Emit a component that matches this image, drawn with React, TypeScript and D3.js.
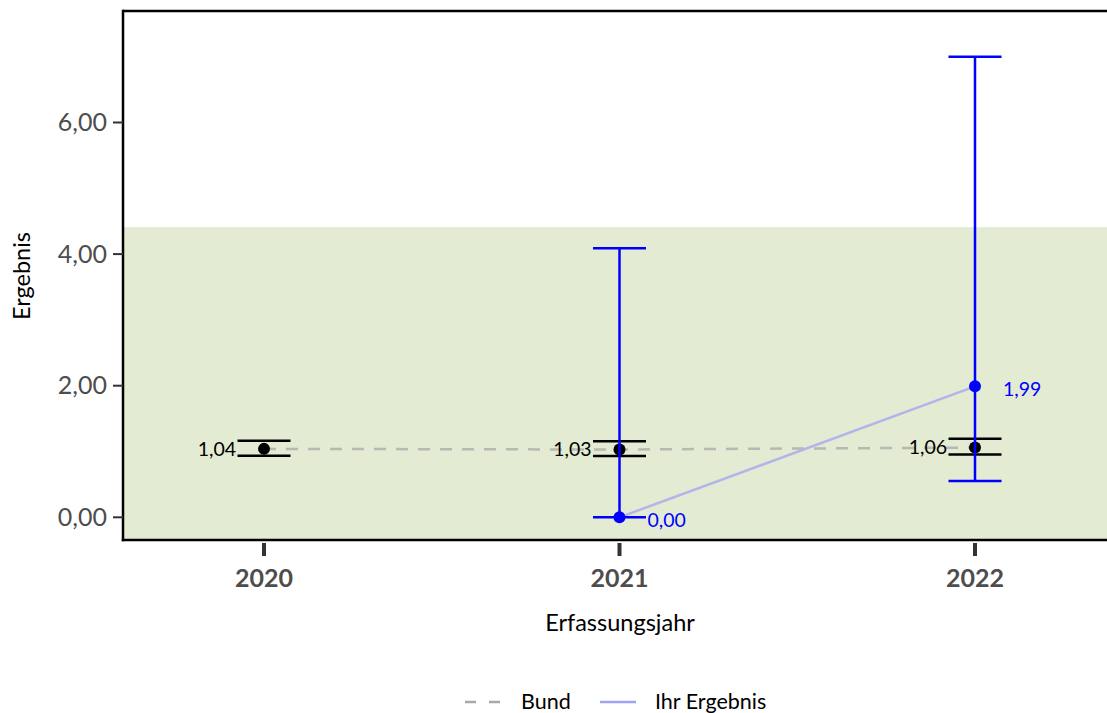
import React from "react";
import * as d3 from "d3";

const years = [2020, 2021, 2022];
const bundValues = [1.04, 1.03, 1.06];
const bundLower = [0.935, 0.93, 0.955];
const bundUpper = [1.165, 1.155, 1.195];
const ownYears = [2021, 2022];
const ownValues = [0.0, 1.99];
const ownLower = [0.0, 0.55];
const ownUpper = [4.09, 7.0];
const referenceUpper = 4.41;
const yTicks = [0, 2, 4, 6];
const legendLabels = ["Bund", "Ihr Ergebnis"];

const W = 1107;
const H = 713;
const left = 123;
const right = 1107;
const top = 11;
const bottom = 540;
const font = "Lato, 'Open Sans', sans-serif";

const fmt = (v: number) => v.toFixed(2).replace(".", ",");

export default function App() {
  const x = d3.scaleLinear().domain([2020, 2022]).range([264, 975]);
  const y = d3.scaleLinear().domain([0, 6]).range([517.3, 122.5]);
  const cap = 26.5;

  const bundLine = d3
    .line<number>()
    .x((_, i) => x(years[i]))
    .y((d) => y(d));
  const ownLine = d3
    .line<number>()
    .x((_, i) => x(ownYears[i]))
    .y((d) => y(d));

  return (
    <svg width={W} height={H} style={{ position: "absolute", left: 0, top: 0 }}>
      <rect x={0} y={0} width={W} height={H} fill="#fff" />
      {/* reference band */}
      <rect
        x={left}
        y={y(referenceUpper)}
        width={right - left}
        height={bottom - y(referenceUpper)}
        fill="#e3ebd3"
      />
      {/* Bund series */}
      <path
        d={bundLine(bundValues) || ""}
        fill="none"
        stroke="#a8a8a8"
        strokeOpacity={0.75}
        strokeWidth={2.5}
        strokeDasharray="12,10"
      />
      {years.map((yr, i) => (
        <g key={"b" + yr} stroke="#000" strokeWidth={2.5}>
          <line x1={x(yr) - cap} x2={x(yr) + cap} y1={y(bundUpper[i])} y2={y(bundUpper[i])} />
          <line x1={x(yr) - cap} x2={x(yr) + cap} y1={y(bundLower[i])} y2={y(bundLower[i])} />
        </g>
      ))}
      {/* own result */}
      <path
        d={ownLine(ownValues) || ""}
        fill="none"
        stroke="#b2b4ec"
        strokeWidth={2.5}
      />
      {years.map((yr, i) => (
        <circle key={"bp" + yr} cx={x(yr)} cy={y(bundValues[i])} r={6} fill="#000" />
      ))}
      {ownYears.map((yr, i) => (
        <g key={"o" + yr} stroke="#0000ff" strokeWidth={2.5}>
          <line x1={x(yr)} x2={x(yr)} y1={y(ownUpper[i])} y2={y(ownLower[i])} />
          <line x1={x(yr) - cap} x2={x(yr) + cap} y1={y(ownUpper[i])} y2={y(ownUpper[i])} />
          <line x1={x(yr) - cap} x2={x(yr) + cap} y1={y(ownLower[i])} y2={y(ownLower[i])} />
        </g>
      ))}
      {ownYears.map((yr, i) => (
        <circle key={"op" + yr} cx={x(yr)} cy={y(ownValues[i])} r={6} fill="#0000ff" />
      ))}
      {/* value labels */}
      {years.map((yr, i) => (
        <text
          key={"bl" + yr}
          x={x(yr) - 28}
          y={y(bundValues[i])}
          dy="0.35em"
          textAnchor="end"
          fontFamily={font}
          fontSize={19.5}
          fill="#000"
        >
          {fmt(bundValues[i])}
        </text>
      ))}
      {ownYears.map((yr, i) => (
        <text
          key={"ol" + yr}
          x={x(yr) + 28}
          y={y(ownValues[i]) + 3}
          dy="0.35em"
          textAnchor="start"
          fontFamily={font}
          fontSize={19.5}
          fill="#0000ff"
        >
          {fmt(ownValues[i])}
        </text>
      ))}
      {/* axes */}
      <line x1={left} x2={right} y1={top} y2={top} stroke="#000" strokeWidth={2.5} />
      <line x1={left} x2={left} y1={top - 1.25} y2={bottom + 1.25} stroke="#000" strokeWidth={2.5} />
      <line x1={left - 1.25} x2={right} y1={bottom} y2={bottom} stroke="#000" strokeWidth={2.5} />
      {yTicks.map((t) => (
        <g key={"yt" + t}>
          <line x1={left - 10} x2={left} y1={y(t)} y2={y(t)} stroke="#333" strokeWidth={2} />
          <text
            x={left - 16}
            y={y(t)}
            dy="0.35em"
            textAnchor="end"
            fontFamily={font}
            fontSize={25}
            fill="#4d4d4d"
          >
            {fmt(t)}
          </text>
        </g>
      ))}
      {years.map((yr) => (
        <g key={"xt" + yr}>
          <line x1={x(yr)} x2={x(yr)} y1={bottom + 3} y2={bottom + 16} stroke="#333" strokeWidth={4} />
          <text
            x={x(yr)}
            y={587}
            textAnchor="middle"
            fontFamily={font}
            fontSize={25}
            fontWeight="bold"
            fill="#4d4d4d"
          >
            {yr}
          </text>
        </g>
      ))}
      <text x={620} y={631} textAnchor="middle" fontFamily={font} fontSize={23.5} fill="#000">
        Erfassungsjahr
      </text>
      <text
        transform="translate(30,276) rotate(-90)"
        textAnchor="middle"
        fontFamily={font}
        fontSize={23.5}
        fill="#000"
      >
        Ergebnis
      </text>
      {/* legend */}
      <line x1={465} x2={500} y1={702} y2={702} stroke="#a8a8a8" strokeWidth={2.5} strokeDasharray="11,13" />
      <text x={521} y={709} fontFamily={font} fontSize={21.5} fill="#000">
        {legendLabels[0]}
      </text>
      <line x1={600} x2={636} y1={702} y2={702} stroke="#a0a2f4" strokeWidth={2.5} />
      <text x={655} y={709} fontFamily={font} fontSize={21.5} fill="#000">
        {legendLabels[1]}
      </text>
    </svg>
  );
}
